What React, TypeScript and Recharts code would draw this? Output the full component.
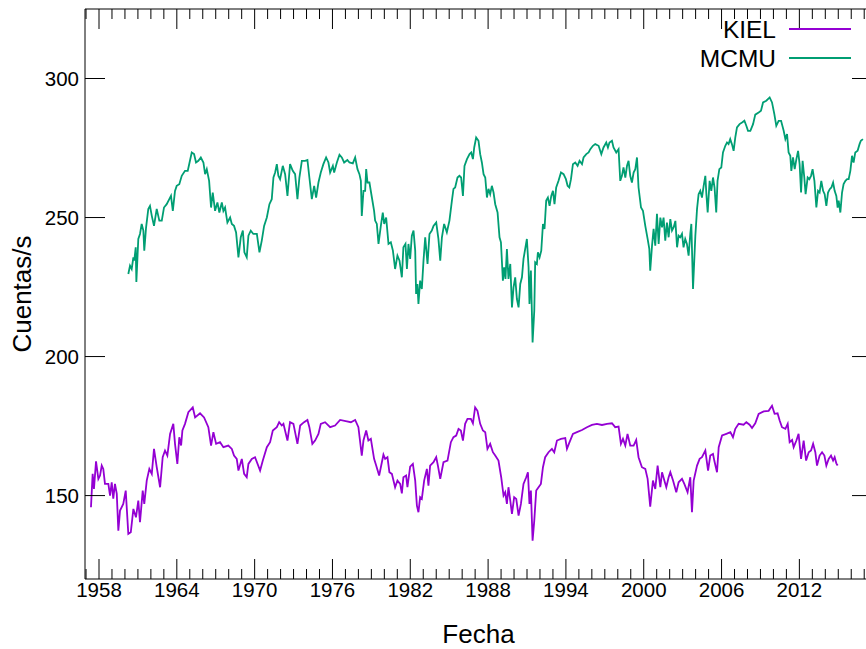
import { LineChart, Line, XAxis, YAxis, ReferenceLine } from 'recharts';

// monthly-ish samples (fractional year, counts/s)
const kielYears = [
  1957.38, 1957.51, 1957.61, 1957.77, 1957.95, 1958.08, 1958.21, 1958.33, 1958.46, 1958.72,
  1958.85, 1958.98, 1959.1, 1959.23, 1959.37, 1959.49, 1959.62, 1959.87, 1960.06, 1960.26,
  1960.45, 1960.65, 1960.85, 1961.03, 1961.16, 1961.37, 1961.49, 1961.68, 1961.88, 1962.07,
  1962.24, 1962.45, 1962.71, 1962.91, 1963.09, 1963.27, 1963.48, 1963.73, 1963.86, 1964.04,
  1964.19, 1964.33, 1964.43, 1964.63, 1964.89, 1965.23, 1965.41, 1965.79, 1966.1, 1966.43,
  1966.64, 1966.82, 1967.03, 1967.33, 1967.59, 1967.97, 1968.24, 1968.41, 1968.62, 1968.75,
  1969.01, 1969.19, 1969.39, 1969.52, 1969.78, 1970.03, 1970.42, 1970.63, 1970.94, 1971.19,
  1971.4, 1971.71, 1971.89, 1972.09, 1972.22, 1972.53, 1972.73, 1972.99, 1973.3, 1973.51,
  1973.81, 1974.07, 1974.22, 1974.45, 1974.66, 1974.92, 1975.1, 1975.43, 1975.82, 1976.2,
  1976.59, 1977.11, 1977.42, 1977.75, 1978.0, 1978.26, 1978.39, 1978.6, 1978.77, 1978.96,
  1979.21, 1979.37, 1979.6, 1979.81, 1979.93, 1980.06, 1980.24, 1980.39, 1980.58, 1980.83,
  1981.01, 1981.22, 1981.35, 1981.47, 1981.68, 1981.78, 1981.99, 1982.2, 1982.38, 1982.51,
  1982.63, 1982.76, 1982.89, 1983.07, 1983.28, 1983.4, 1983.53, 1983.79, 1984.0, 1984.13,
  1984.31, 1984.56, 1984.87, 1985.13, 1985.33, 1985.54, 1985.72, 1985.9, 1986.06, 1986.23,
  1986.41, 1986.67, 1986.83, 1987.0, 1987.18, 1987.39, 1987.6, 1987.78, 1987.95, 1988.16,
  1988.37, 1988.55, 1988.8, 1989.01, 1989.19, 1989.32, 1989.45, 1989.57, 1989.71, 1989.84,
  1990.01, 1990.17, 1990.35, 1990.53, 1990.73, 1990.94, 1991.07, 1991.19, 1991.3, 1991.43,
  1991.56, 1991.71, 1991.89, 1992.07, 1992.23, 1992.4, 1992.66, 1992.92, 1993.1, 1993.31,
  1993.62, 1993.95, 1994.08, 1994.28, 1994.54, 1994.85, 1995.24, 1995.62, 1996.01, 1996.39,
  1996.78, 1997.17, 1997.55, 1997.8, 1998.06, 1998.24, 1998.4, 1998.58, 1998.75, 1998.96,
  1999.22, 1999.42, 1999.6, 1999.86, 2000.12, 2000.3, 2000.5, 2000.71, 2000.89, 2001.07,
  2001.28, 2001.41, 2001.59, 2001.74, 2001.92, 2002.05, 2002.26, 2002.51, 2002.69, 2002.95,
  2003.13, 2003.38, 2003.59, 2003.72, 2003.85, 2004.11, 2004.31, 2004.49, 2004.75, 2004.96,
  2005.13, 2005.34, 2005.44, 2005.65, 2005.78, 2006.04, 2006.37, 2006.68, 2006.88, 2007.06,
  2007.32, 2007.7, 2007.91, 2008.16, 2008.35, 2008.6, 2008.86, 2009.25, 2009.63, 2009.89,
  2010.09, 2010.32, 2010.48, 2010.66, 2010.92, 2011.1, 2011.25, 2011.44, 2011.56, 2011.77,
  2011.94, 2012.13, 2012.33, 2012.52, 2012.72, 2012.9, 2013.06, 2013.23, 2013.36, 2013.56,
  2013.75, 2013.93, 2014.08, 2014.26, 2014.44, 2014.6, 2014.72, 2014.85, 2014.95,
];
const kielCounts = [
  145.8, 157.8, 152.4, 162.3, 156, 157.2, 160.8, 159.6, 154.2, 154.2,
  150, 154.8, 148.9, 154.2, 150.6, 137.4, 144.6, 147, 151.8, 136.2,
  136.8, 145.2, 142.2, 148.2, 140.4, 151.8, 147, 155.4, 159.6, 157.8,
  166.8, 160.2, 153, 163.8, 166.2, 164.4, 172.2, 175.8, 168.6, 161.4,
  171, 168, 173.4, 175.8, 180, 181.7, 178.1, 179.6, 178.1, 174.6,
  168, 172.8, 168.6, 169.2, 167.4, 168, 166.8, 164.4, 163.2, 159,
  163.2, 157.8, 156.6, 161.4, 163.2, 163.8, 159, 162.6, 167.4, 169.2,
  173.4, 174.6, 176.4, 175.2, 175.8, 169.8, 176.4, 175.8, 168.6, 175.2,
  176.4, 177.2, 174.6, 168.6, 169.8, 172.2, 175.8, 176.4, 174.6, 175.2,
  177.2, 176.7, 176.4, 177.2, 174.6, 164.4, 169.8, 173.4, 169.8, 170.4,
  163.2, 160.8, 157.2, 162, 164.7, 163.2, 163.8, 158.4, 157.8, 153,
  155.4, 154.2, 150.8, 156.6, 157.2, 153, 160.4, 161.4, 155.4, 146.4,
  144, 149.4, 148.8, 155.4, 159.6, 153.6, 160.8, 162, 163.8, 160.8,
  156, 162, 162.6, 169.2, 171, 171.6, 174, 173.4, 169.8, 175.8,
  177.6, 177.6, 176, 181.7, 180.5, 175.8, 173.4, 172.8, 166.8, 168.6,
  165.6, 164.4, 162.6, 156.6, 150, 151.2, 147, 153, 148.2, 143.4,
  149.4, 148.8, 142.8, 147, 154.2, 156.6, 158.4, 147, 151.8, 133.8,
  141, 151.8, 153, 154.2, 160.2, 163.8, 165.6, 166.8, 165.6, 169.8,
  170.4, 170.7, 166.8, 169.2, 172.2, 172.8, 173.6, 174.6, 175.4, 175.8,
  175.4, 175.8, 176, 174.6, 174.8, 168.6, 170.4, 168, 172.2, 168,
  168, 170, 163.8, 160.2, 159.6, 156, 146, 155.4, 152.4, 160.8,
  153, 158.4, 155.4, 153, 156.6, 158.4, 155.4, 151.2, 154.8, 156,
  154.2, 151.2, 156.6, 144, 155.4, 160.8, 163.2, 163.8, 166.2, 159,
  164.4, 165, 162.6, 158.4, 167.4, 171.6, 172.2, 172.8, 171, 174,
  175.8, 175.5, 176.4, 175.5, 174.3, 176, 179.4, 180.3, 180.5, 182.3,
  179.4, 179.6, 177, 174.6, 174, 175.8, 169.2, 170, 167.4, 169.8,
  172.2, 163.2, 169.8, 162.6, 165.6, 166.2, 168.6, 165.6, 160.8, 164.4,
  165.6, 164.4, 160.8, 163.2, 164.4, 162.6, 163.8, 161.6, 160.8,
];

const mcmuYears = [
  1960.26, 1960.39, 1960.52, 1960.65, 1960.72, 1960.83, 1960.88, 1961.03, 1961.16, 1961.29,
  1961.42, 1961.49, 1961.63, 1961.8, 1961.93, 1962.07, 1962.24, 1962.45, 1962.65, 1962.84,
  1963.01, 1963.22, 1963.42, 1963.55, 1963.69, 1963.86, 1963.99, 1964.19, 1964.38, 1964.63,
  1964.84, 1964.97, 1965.15, 1965.33, 1965.48, 1965.66, 1965.85, 1966.05, 1966.18, 1966.31,
  1966.49, 1966.64, 1966.77, 1966.95, 1967.13, 1967.28, 1967.47, 1967.59, 1967.72, 1967.9,
  1968.11, 1968.24, 1968.41, 1968.57, 1968.75, 1968.93, 1969.09, 1969.21, 1969.39, 1969.52,
  1969.7, 1969.9, 1970.17, 1970.37, 1970.55, 1970.73, 1970.94, 1971.14, 1971.32, 1971.45,
  1971.58, 1971.71, 1971.83, 1971.96, 1972.17, 1972.35, 1972.53, 1972.73, 1972.94, 1973.12,
  1973.3, 1973.45, 1973.64, 1973.89, 1974.07, 1974.22, 1974.41, 1974.59, 1974.74, 1974.92,
  1975.1, 1975.3, 1975.51, 1975.69, 1975.82, 1976.03, 1976.13, 1976.34, 1976.54, 1976.72,
  1976.9, 1977.15, 1977.31, 1977.57, 1977.75, 1977.93, 1978.08, 1978.19, 1978.26, 1978.39,
  1978.52, 1978.6, 1978.7, 1978.85, 1979.04, 1979.21, 1979.29, 1979.42, 1979.55, 1979.73,
  1979.88, 1979.99, 1980.14, 1980.32, 1980.5, 1980.66, 1980.83, 1981.01, 1981.17, 1981.35,
  1981.47, 1981.63, 1981.74, 1981.86, 1981.99, 1982.12, 1982.25, 1982.38, 1982.45, 1982.55,
  1982.63, 1982.76, 1982.89, 1983.02, 1983.15, 1983.33, 1983.48, 1983.66, 1983.79, 1984.0,
  1984.17, 1984.31, 1984.44, 1984.61, 1984.82, 1985.02, 1985.21, 1985.33, 1985.46, 1985.64,
  1985.79, 1985.92, 1986.06, 1986.18, 1986.37, 1986.57, 1986.7, 1986.83, 1986.93, 1987.08,
  1987.26, 1987.39, 1987.52, 1987.65, 1987.78, 1987.91, 1988.03, 1988.16, 1988.29, 1988.42,
  1988.55, 1988.73, 1988.88, 1988.99, 1989.14, 1989.24, 1989.34, 1989.45, 1989.57, 1989.71,
  1989.84, 1989.96, 1990.09, 1990.22, 1990.35, 1990.48, 1990.61, 1990.73, 1990.86, 1990.99,
  1991.12, 1991.19, 1991.3, 1991.43, 1991.56, 1991.63, 1991.76, 1991.84, 1991.97, 1992.1,
  1992.23, 1992.35, 1992.48, 1992.61, 1992.74, 1992.87, 1993.0, 1993.12, 1993.25, 1993.43,
  1993.62, 1993.82, 1994.0, 1994.13, 1994.26, 1994.39, 1994.54, 1994.72, 1994.9, 1995.05,
  1995.24, 1995.36, 1995.57, 1995.75, 1995.88, 1996.08, 1996.26, 1996.52, 1996.73, 1996.9,
  1997.11, 1997.24, 1997.36, 1997.55, 1997.67, 1997.88, 1998.06, 1998.19, 1998.32, 1998.44,
  1998.58, 1998.71, 1998.83, 1998.96, 1999.09, 1999.22, 1999.35, 1999.48, 1999.6, 1999.79,
  1999.94, 2000.12, 2000.3, 2000.43, 2000.5, 2000.64, 2000.76, 2000.89, 2001.02, 2001.15,
  2001.28, 2001.41, 2001.53, 2001.66, 2001.79, 2001.92, 2002.05, 2002.18, 2002.31, 2002.44,
  2002.57, 2002.69, 2002.82, 2002.95, 2003.07, 2003.2, 2003.33, 2003.46, 2003.59, 2003.67,
  2003.8, 2003.98, 2004.11, 2004.23, 2004.36, 2004.49, 2004.62, 2004.75, 2004.83, 2004.93,
  2005.08, 2005.21, 2005.34, 2005.46, 2005.59, 2005.69, 2005.83, 2005.98, 2006.11, 2006.29,
  2006.42, 2006.54, 2006.67, 2006.8, 2006.93, 2007.06, 2007.19, 2007.39, 2007.58, 2007.76,
  2007.91, 2008.04, 2008.22, 2008.43, 2008.6, 2008.86, 2009.04, 2009.2, 2009.45, 2009.71,
  2009.89, 2010.07, 2010.22, 2010.4, 2010.59, 2010.79, 2010.92, 2011.05, 2011.17, 2011.3,
  2011.38, 2011.51, 2011.64, 2011.77, 2011.9, 2012.02, 2012.13, 2012.25, 2012.38, 2012.48,
  2012.64, 2012.77, 2012.9, 2013.02, 2013.16, 2013.31, 2013.44, 2013.56, 2013.69, 2013.83,
  2013.95, 2014.08, 2014.21, 2014.34, 2014.47, 2014.6, 2014.72, 2014.85, 2014.95, 2015.03,
  2015.16, 2015.29, 2015.41, 2015.55, 2015.68, 2015.8, 2015.93, 2016.06, 2016.18, 2016.31,
  2016.49, 2016.64, 2016.74, 2016.9,
];
const mcmuCounts = [
  229.7, 232.7, 231.5, 235.7, 234.5, 239.3, 226.8, 242.3, 244.1, 247.7,
  245.3, 238.1, 246.5, 253.1, 254.2, 250.6, 247, 253.1, 248.9, 248.9,
  253.6, 254.8, 256.6, 257.8, 252.4, 259.6, 261.4, 262, 265, 266.8,
  266.8, 269.5, 273.4, 272.8, 269.8, 270.4, 271.6, 269.8, 265.6, 267.4,
  263.2, 253.6, 259, 252.4, 255.4, 251.8, 255.4, 252.4, 253.6, 248.2,
  250, 247.7, 247, 244.6, 235.7, 242.9, 245.3, 237.5, 235.7, 243.5,
  245.3, 244.1, 244.1, 237.5, 241.7, 247, 250, 254.8, 256.6, 264.4,
  266.2, 269.2, 265, 263.8, 268.6, 265.6, 257.8, 269.2, 266.8, 265.6,
  256.6, 264.4, 270.4, 270.4, 270.7, 264.4, 256.6, 261.4, 257.2, 262.6,
  266.2, 269.2, 271.6, 269.8, 266.2, 268.6, 266.2, 269.8, 272.6, 271.6,
  269.8, 270.7, 269.8, 269.5, 271.6, 267.4, 265.6, 263.2, 250.6, 259.6,
  259.6, 267.4, 262.6, 262.6, 257.2, 252.4, 248.9, 247.7, 240.5, 247,
  251.8, 247.7, 250, 240.5, 241.1, 238.1, 231.5, 236.3, 234.5, 228.5,
  239.3, 240.5, 231.5, 240.5, 235.1, 243.5, 245.3, 238.1, 222.5, 226.1,
  218.9, 227.3, 224.3, 234.5, 242.9, 233.3, 244.1, 245.3, 247, 248.2,
  242.3, 234.5, 242.9, 247.7, 244.7, 248.9, 256.1, 260.3, 260.8, 264.4,
  265, 264.4, 257.8, 268.6, 271, 272.8, 273.4, 271, 275.2, 278.8,
  277.6, 272.8, 269.8, 265.6, 264.4, 257.2, 260.3, 258.4, 261.4, 259,
  254.8, 251.8, 242.9, 241.1, 227.3, 232.1, 227.9, 238.7, 227.9, 233.3,
  217.7, 224.9, 228.5, 220.7, 217.7, 226.1, 228.5, 235.1, 238.7, 242.3,
  232.1, 218.9, 230.9, 205.1, 216.5, 233.9, 233.3, 237.5, 235.7, 238.1,
  247.7, 245.9, 256.1, 257.2, 254.2, 257.8, 259.6, 254.8, 260.8, 263.2,
  266.2, 265.6, 263.8, 261.4, 260.8, 263.8, 269.2, 269.8, 268.6, 270.4,
  269.2, 271.6, 272.8, 273.4, 274.6, 275.8, 276.4, 275.8, 272.8, 275.2,
  277, 275.2, 277, 277.6, 275.2, 273.4, 274.6, 263.2, 265, 268,
  264.4, 268.6, 270.4, 265, 262.6, 266.2, 267.4, 271.6, 260.8, 253.6,
  252.4, 247, 242.3, 238.7, 230.9, 239.9, 245.9, 239.9, 251.3, 240.5,
  250, 246.5, 250, 241.7, 248.2, 242.9, 249.4, 245.3, 246.5, 248.8,
  239.3, 243.5, 242.9, 244.1, 239.3, 242.3, 240.5, 236.3, 244.1, 247.7,
  224.3, 243.5, 253.1, 258.4, 259.6, 257.2, 261.4, 265, 258.4, 251.8,
  263.2, 259.6, 264.4, 260.8, 251.8, 263.2, 267.4, 268, 273.4, 275.8,
  277, 276.4, 278.2, 276.4, 274, 278.8, 282.4, 283.6, 284.2, 284.8,
  283, 281.2, 281.2, 283.6, 287, 287.8, 288.4, 291.4, 292, 293.2,
  291.4, 287.2, 283, 284.8, 284.8, 281.2, 278.2, 280, 273.4, 272.2,
  266.8, 271.6, 267.4, 271, 274, 269.2, 259, 270.4, 264.4, 258.4,
  264.4, 263.8, 265, 267.4, 263.2, 253.6, 259.6, 259, 263.2, 259.6,
  258.4, 254.2, 259, 260.2, 260.8, 262.6, 259.6, 257.8, 253.6, 256.1,
  251.8, 259, 262, 263.2, 263.8, 263.8, 266.8, 272.2, 269.8, 273.4,
  274, 276.4, 277.6, 278.2,
];

const yearTicks = [
  1957, 1958, 1959, 1960, 1961, 1962, 1963, 1964, 1965, 1966, 1967, 1968, 1969, 1970, 1971,
  1972, 1973, 1974, 1975, 1976, 1977, 1978, 1979, 1980, 1981, 1982, 1983, 1984, 1985, 1986,
  1987, 1988, 1989, 1990, 1991, 1992, 1993, 1994, 1995, 1996, 1997, 1998, 1999, 2000, 2001,
  2002, 2003, 2004, 2005, 2006, 2007, 2008, 2009, 2010, 2011, 2012, 2013, 2014, 2015, 2016, 2017,
];
const labelledYears = [1958, 1964, 1970, 1976, 1982, 1988, 1994, 2000, 2006, 2012];
const countTicks = [150, 200, 250, 300];

const series = [
  { key: 'kiel', name: 'KIEL', color: '#9400d3' },
  { key: 'mcmu', name: 'MCMU', color: '#009e73' },
];

const kielData = kielYears.map((t, i) => ({ t, kiel: kielCounts[i] }));
const mcmuData = mcmuYears.map((t, i) => ({ t, mcmu: mcmuCounts[i] }));

const FONT = '"Liberation Sans", Arial, Helvetica, sans-serif';
const CHART_W = 900;
const CHART_H = 649;
const TOP = 9;
const LEFT = 85;
const X_AXIS_H = 70;
const RIGHT_MARGIN = 28;
const BOTTOM = CHART_H - X_AXIS_H;
const RIGHT = CHART_W - RIGHT_MARGIN;

function YearTick(props: any) {
  const { x, payload } = props;
  const major = labelledYears.includes(payload.value);
  const len = major ? 20 : 10;
  return (
    <g>
      <line x1={x} x2={x} y1={BOTTOM} y2={BOTTOM - len} stroke="#000" />
      <line x1={x} x2={x} y1={TOP} y2={TOP + len} stroke="#000" />
      {major ? (
        <text x={x} y={BOTTOM + 18} textAnchor="middle" fontSize={20.5} fontFamily={FONT} fill="#000">
          {payload.value}
        </text>
      ) : null}
    </g>
  );
}

function CountTick(props: any) {
  const { y, payload } = props;
  return (
    <g>
      <line x1={LEFT} x2={LEFT + 20} y1={y} y2={y} stroke="#000" />
      <line x1={RIGHT - 20} x2={RIGHT} y1={y} y2={y} stroke="#000" />
      <text x={79} y={y + 7.5} textAnchor="end" fontSize={20.5} fontFamily={FONT} fill="#000">
        {payload.value}
      </text>
    </g>
  );
}

function YTitle(props: any) {
  const vb = props.viewBox;
  const cy = vb.y + vb.height / 2;
  return (
    <text x={31} y={cy} transform={`rotate(-90, 31, ${cy})`} textAnchor="middle" fontSize={26} fontFamily={FONT} fill="#000">
      Cuentas/s
    </text>
  );
}

function XTitle(props: any) {
  const vb = props.viewBox;
  return (
    <text x={vb.x + vb.width / 2} y={643} textAnchor="middle" fontSize={26} fontFamily={FONT} fill="#000">
      Fecha
    </text>
  );
}

function LegendBox() {
  return (
    <svg
      width={260}
      height={62}
      style={{ position: 'absolute', left: 600, top: 12, display: 'block', pointerEvents: 'none' }}
    >
      {series.map((s, i) => (
        <g key={s.key}>
          <text x={176} y={26 + i * 29} textAnchor="end" fontSize={24.5} fontFamily={FONT} fill="#000">
            {s.name}
          </text>
          <line x1={189} x2={251} y1={17 + i * 29} y2={17 + i * 29} stroke={s.color} strokeWidth={1.8} />
        </g>
      ))}
    </svg>
  );
}

export default function App() {
  return (
    <div style={{ position: 'absolute', left: 0, top: 0, width: 866, height: 649, overflow: 'hidden', background: '#fff' }}>
      <LineChart width={CHART_W} height={CHART_H} margin={{ top: TOP, right: RIGHT_MARGIN, bottom: 0, left: 0 }}>
        <XAxis
          dataKey="t"
          type="number"
          domain={[1956.92, 2017.6]}
          allowDataOverflow
          ticks={yearTicks}
          interval={0}
          height={X_AXIS_H}
          tickLine={false}
          axisLine={{ stroke: '#000' }}
          tick={<YearTick />}
          label={<XTitle />}
        />
        <YAxis
          type="number"
          domain={[120, 325]}
          allowDataOverflow
          ticks={countTicks}
          interval={0}
          width={LEFT}
          tickLine={false}
          axisLine={{ stroke: '#000' }}
          tick={<CountTick />}
          label={<YTitle />}
        />
        <ReferenceLine y={325} stroke="#000" />
        <ReferenceLine x={2017.6} stroke="#000" />
        <Line
          data={kielData}
          dataKey="kiel"
          name="KIEL"
          type="linear"
          stroke={series[0].color}
          strokeWidth={1.8}
          dot={false}
          isAnimationActive={false}
        />
        <Line
          data={mcmuData}
          dataKey="mcmu"
          name="MCMU"
          type="linear"
          stroke={series[1].color}
          strokeWidth={1.8}
          dot={false}
          isAnimationActive={false}
        />
      </LineChart>
      <LegendBox />
    </div>
  );
}
